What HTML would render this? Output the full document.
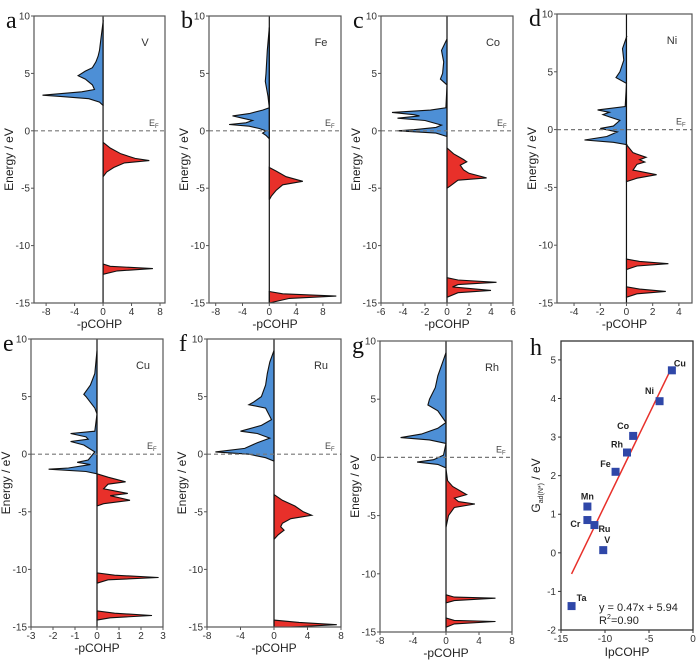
<!DOCTYPE html>
<html><head><meta charset="utf-8"><style>
body{margin:0;background:#fff;}
svg{display:block;font-family:"Liberation Sans",sans-serif;}
</style></head><body>
<svg id="fig" width="700" height="664" viewBox="0 0 700 664"></svg>
<script>
// ---- data ----
const panelNames = ["V","Fe","Co","Ni","Cu","Ru","Rh"];
const panelLetters = ["a","b","c","d","e","f","g"];
const yTicks = [10,5,0,-5,-10,-15];
const xTickSets = [[-8,-4,0,4,8],[-8,-4,0,4,8],[-6,-4,-2,0,2,4,6],[-4,-2,0,2,4],[-3,-2,-1,0,1,2,3],[-8,-4,0,4,8],[-8,-4,0,4,8]];
// bonding (blue) curves: [energy, -pCOHP]
const blueV=[[9.5,0],[8,-0.3],[7,-0.5],[6.5,-0.7],[6,-1],[5.5,-1.5],[5.2,-2.5],[4.8,-3.5],[4.5,-2.5],[4,-1.5],[3.6,-1.2],[3.4,-3],[3.1,-8.5],[3.0,-6],[2.8,-2],[2.5,-0.5],[2.2,0]];
const redV=[[-1,0],[-1.5,1],[-2,2.5],[-2.4,4.5],[-2.6,6.5],[-2.8,3],[-3.2,1.5],[-3.6,0.5],[-4,0]];
const redV2=[[-11.6,0],[-11.8,1],[-12,7],[-12.2,2],[-12.5,0]];
const blueFe=[[9,0],[7,-0.3],[5,-0.5],[4.3,-0.6],[3,-0.2],[2,0],[1.8,-1],[1.5,-3],[1.3,-5.5],[1.1,-4],[0.9,-2.5],[0.7,-3.5],[0.55,-6],[0.4,-3],[0.2,-1.5],[0,-0.5],[-0.2,-1],[-0.4,-0.5],[-0.7,0]];
const redFe=[[-3.2,0],[-3.5,1],[-4,2.5],[-4.4,5],[-4.7,2],[-5.2,1],[-5.7,0.3],[-6,0]];
const redFe2=[[-14,0],[-14.2,2],[-14.4,10],[-14.6,3],[-15,0]];
const blueCo=[[8,0],[7,-0.5],[6,-0.3],[5,-0.4],[4.5,-0.6],[4,0],[2,-0.1],[1.8,-1.5],[1.6,-5],[1.4,-3],[1.3,-2.5],[1.1,-4.5],[0.9,-2],[0.5,-0.5],[0.3,-1],[0.1,-3],[0,-4.5],[-0.2,-1],[-0.5,0]];
const redCo=[[-1.5,0],[-2,0.6],[-2.5,1.5],[-2.7,1.8],[-3,1.2],[-3.4,1.5],[-3.7,2],[-4.1,3.6],[-4.3,1],[-4.8,0.3],[-5,0]];
const redCo2=[[-12.8,0],[-13,1],[-13.2,4.5],[-13.4,1],[-13.6,0.5],[-13.9,4],[-14.1,1],[-14.5,0]];
const blueNi=[[8,0],[7,-0.3],[6,-0.2],[5,-0.5],[4.5,-0.8],[4,0],[2,-0.1],[1.7,-2.2],[1.5,-1.3],[1.3,-1.8],[1.1,-1.3],[0.8,-0.5],[0.3,-1],[0.1,-2],[-0.2,-0.7],[-0.6,-1.5],[-0.9,-3.2],[-1.1,-1],[-1.3,0]];
const redNi=[[-1.3,0],[-2,0.5],[-2.4,1.5],[-2.6,1],[-2.8,1.4],[-3,0.8],[-3.5,0.5],[-3.9,2.3],[-4.2,0.8],[-4.5,0]];
const redNi2=[[-11.2,0],[-11.4,1],[-11.6,3.2],[-11.8,0.8],[-12.1,0]];
const redNi3=[[-13.6,0],[-13.8,1],[-14,3],[-14.2,0.8],[-14.5,0]];
const blueCu=[[9,0],[7,-0.1],[6,-0.3],[5.2,-0.6],[5,-0.5],[4,-0.1],[3.5,0],[2,-0.1],[1.8,-1.2],[1.5,-0.5],[1.3,-0.4],[1.1,-1.2],[0.8,-0.6],[0.2,-0.1],[-0.5,-0.4],[-0.7,-0.9],[-0.9,-0.3],[-1.2,-1.3],[-1.3,-2.2],[-1.5,-0.5],[-1.7,0]];
const redCu=[[-1.7,0],[-2,0.5],[-2.4,1.3],[-2.6,0.5],[-3,0.3],[-3.4,1.4],[-3.6,0.6],[-4,1.5],[-4.3,0.3],[-4.5,0]];
const redCu2=[[-10.3,0],[-10.5,0.8],[-10.7,2.8],[-10.9,0.5],[-11.2,0]];
const redCu3=[[-13.6,0],[-13.8,0.8],[-14,2.5],[-14.2,0.6],[-14.4,0]];
const blueRu=[[9,0],[8,-0.5],[7,-0.8],[6,-1],[5,-1.5],[4.5,-2.5],[4.3,-3],[4,-1],[3,-0.3],[2.5,-1.5],[2,-4],[1.8,-2],[1.4,-0.5],[1,-2],[0.5,-3.5],[0.2,-7],[0,-3],[-0.3,-1],[-0.6,0]];
const redRu=[[-3.5,0],[-4,1],[-4.5,2.5],[-5,3.5],[-5.3,4.5],[-5.6,2],[-6,1],[-6.3,0.8],[-6.6,1.2],[-7,0.5],[-7.4,0]];
const redRu2=[[-14.4,0],[-14.6,3],[-14.8,7.5],[-15,2]];
const blueRh=[[9,0],[8,-0.5],[7,-1],[6,-1.3],[5,-2],[4.5,-2.2],[4,-1],[3,0],[2.5,-1],[2,-3],[1.7,-5.5],[1.5,-2],[1.2,0],[0.2,-0.3],[-0.2,-1.5],[-0.4,-3.5],[-0.6,-1],[-0.9,0]];
const redRh=[[-1,0],[-2,0.2],[-2.5,0.8],[-3.2,2.5],[-3.5,1],[-3.8,1.5],[-4,3.5],[-4.3,1],[-5,0.3],[-6,0]];
const redRh2=[[-11.8,0],[-12,1],[-12.1,6],[-12.3,1],[-12.5,0]];
const redRh3=[[-13.8,0],[-14,1],[-14.1,6],[-14.3,1],[-14.6,0]];
const panelCurves=[[blueV,redV,redV2],[blueFe,redFe,redFe2],[blueCo,redCo,redCo2],[blueNi,redNi,redNi2,redNi3],[blueCu,redCu,redCu2,redCu3],[blueRu,redRu,redRu2],[blueRh,redRh,redRh2,redRh3]];
// panel h
const metals=["Cu","Ni","Co","Rh","Fe","Mn","Cr","Ru","V","Ta"];
const ipcohp=[-2.4,-3.8,-6.8,-7.5,-8.8,-12,-12,-11.2,-10.2,-13.8];
const gads=[4.73,3.93,3.03,2.6,2.1,1.2,0.85,0.72,0.07,-1.38];
const hXTicks=[-15,-10,-5,0];
const hYTicks=[-2,-1,0,1,2,3,4,5];
const fitSlope=0.47, fitIntercept=5.94, fitRange=[-13.8,-2.4];

// ---- layout ----
const boxes=[[34,16,165,303,-9.7,8.7],[209,16,341,303,-9,10.7],[381,16,513,303,-6,6],[557,14,692,303,-5.3,5],
             [31,339,163,627,-3,3],[207,339,341,627,-8,8],[380,341,512,632,-8,8]];
const svg=document.getElementById('fig');
const NS="http://www.w3.org/2000/svg";
function mk(tag,at,parent){const e=document.createElementNS(NS,tag);for(const k in at)e.setAttribute(k,at[k]);(parent||svg).appendChild(e);return e;}
function txt(s,at,parent){const e=mk('text',at,parent);e.textContent=s;return e;}

boxes.forEach((b,i)=>{
  const [L,T,R,B,xmin,xmax]=b;
  const g=mk('g',{});
  
  
  const X=v=>L+(v-xmin)/(xmax-xmin)*(R-L);
  const Y=e=>T+(10-e)/25*(B-T);
  panelCurves[i].forEach((c,j)=>{
    const isBlue=c[0]&&c.some(p=>p[1]<0);
    let d='M'+X(0)+','+Y(c[0][0]);
    c.forEach(p=>{d+=' L'+X(p[1]).toFixed(1)+','+Y(p[0]).toFixed(1);});
    d+=' L'+X(0)+','+Y(c[c.length-1][0])+' Z';
    const p=mk('path',{d:d,fill:isBlue?'#4d8fd6':'#e8302a',stroke:'#111','stroke-width':1.1},g);
    
    
  });
  const zl=mk('line',{x1:X(0),x2:X(0),y1:T,y2:B,stroke:'#111','stroke-width':1.2},g);
  
  
  const ef=mk('line',{x1:L,x2:R,y1:Y(0),y2:Y(0),stroke:'#777','stroke-width':1.2,'stroke-dasharray':'4,3'},g);
  
  
  const efl=txt('E',{x:R-16,y:Y(0)-5,'font-size':9,fill:'#444'},g);
  
  
  txt('F',{x:R-10,y:Y(0)-3,'font-size':6,fill:'#444'},g);
  const fr=mk('rect',{x:L,y:T,width:R-L,height:B-T,fill:'none',stroke:'#555','stroke-width':1.2},g);
  
  
  yTicks.forEach(t=>{
    mk('line',{x1:L,x2:L-3,y1:Y(t),y2:Y(t),stroke:'#555'},g);
    const tl=txt(String(t),{x:L-4,y:Y(t)+3.5,'font-size':10,'text-anchor':'end',fill:'#333'},g);
    
    
  });
  xTickSets[i].forEach(t=>{
    mk('line',{x1:X(t),x2:X(t),y1:B,y2:B+3,stroke:'#555'},g);
    const tl=txt(String(t),{x:X(t),y:B+12,'font-size':10,'text-anchor':'middle',fill:'#333'},g);
    
    
  });
  const yt=txt('Energy / eV',{x:0,y:0,'font-size':12,'text-anchor':'middle',fill:'#222',transform:`translate(${L-21},${(T+B)/2}) rotate(-90)`},g);
  
  
  const xt=txt('-pCOHP',{x:(L+R)/2,y:B+25,'font-size':12,'text-anchor':'middle',fill:'#222'},g);
  
  
  const nm=txt(panelNames[i],{x:R-20,y:T+30,'font-size':11,'text-anchor':'middle',fill:'#333'},g);
  
  
  const lt=txt(panelLetters[i],{x:L-28,y:T+12,'font-size':24,'font-family':'Liberation Serif, serif',fill:'#111'},g);
  
  
});

// panel h
(function(){
  const L=561,T=341,R=693,B=630,xmin=-15,xmax=0,ymin=-2,ymax=5.49;
  const g=mk('g',{});
  
  
  const X=v=>L+(v-xmin)/(xmax-xmin)*(R-L);
  const Y=v=>B-(v-ymin)/(ymax-ymin)*(B-T);
  const fr=mk('rect',{x:L,y:T,width:R-L,height:B-T,fill:'none',stroke:'#333','stroke-width':1.3},g);
  
  
  hYTicks.forEach(t=>{
    mk('line',{x1:L,x2:L-3,y1:Y(t),y2:Y(t),stroke:'#333'},g);
    const tl=txt(String(t),{x:L-5,y:Y(t)+3.5,'font-size':10,'text-anchor':'end',fill:'#333'},g);
    
    
  });
  hXTicks.forEach(t=>{
    mk('line',{x1:X(t),x2:X(t),y1:B,y2:B+3,stroke:'#333'},g);
    const tl=txt(String(t),{x:X(t),y:B+12,'font-size':10,'text-anchor':'middle',fill:'#333'},g);
    
    
  });
  const fl=mk('line',{x1:X(fitRange[0]),y1:Y(fitSlope*fitRange[0]+fitIntercept),x2:X(fitRange[1]),y2:Y(fitSlope*fitRange[1]+fitIntercept),stroke:'#e8302a','stroke-width':1.5},g);
  
  
  metals.forEach((m,i)=>{
    const cx=X(ipcohp[i]),cy=Y(gads[i]);
    const r=mk('rect',{x:cx-4,y:cy-4,width:8,height:8,fill:'#2f47a8'},g);
    
    
    const off={Cu:[8,-7],Ni:[-10,-10],Co:[-10,-10],Rh:[-10,-8],Fe:[-10,-8],Mn:[0,-10],Cr:[-12,4],Ru:[10,4],V:[4,-10],Ta:[10,-8]}[m];
    const lb=txt(m,{x:cx+off[0],y:cy+off[1]+3,'font-size':9,'font-weight':'bold','text-anchor':'middle',fill:'#222'},g);
    
    
  });
  const eq=txt('y = 0.47x + 5.94',{x:599,y:611,'font-size':11,fill:'#222'},g);
  
  
  const r2=txt('R',{x:599,y:624,'font-size':11,fill:'#222'},g);
  
  
  txt('2',{x:607,y:619,'font-size':7,fill:'#222'},g);
  txt('=0.90',{x:611,y:624,'font-size':11,fill:'#222'},g);
  const xt=txt('IpCOHP',{x:(L+R)/2,y:B+26,'font-size':12,'text-anchor':'middle',fill:'#222'},g);
  
  
  const yt=mk('text',{x:0,y:0,'font-size':12,'text-anchor':'middle',fill:'#222',transform:`translate(${L-21},${(T+B)/2}) rotate(-90)`},g);
  
  
  yt.innerHTML='G<tspan font-size="7" dy="3">ad(N*)</tspan><tspan dy="-3"> / eV</tspan>';
  const lt=txt('h',{x:530,y:355,'font-size':24,'font-family':'Liberation Serif, serif',fill:'#111'},g);
  
  
})();
</script>
</body></html>
